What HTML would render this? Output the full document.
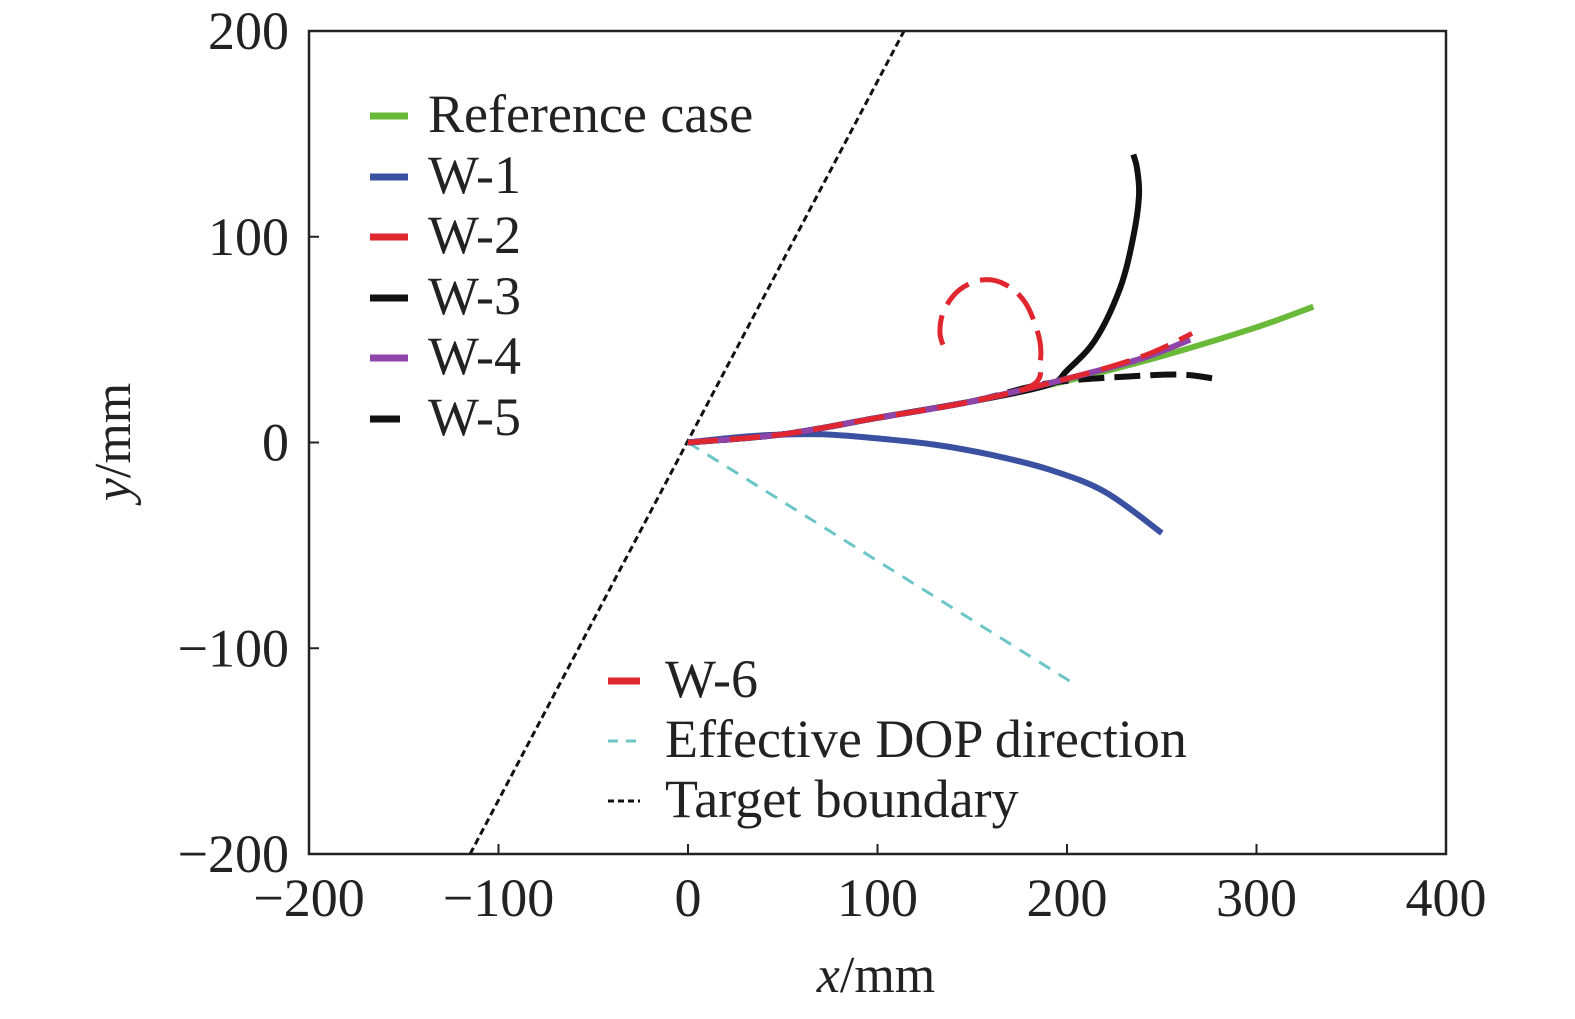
<!DOCTYPE html>
<html><head><meta charset="utf-8"><style>
body{margin:0;background:#fff}
svg text{font-family:"Liberation Serif",serif;fill:#222}
</style></head><body>
<svg id="chart" width="1575" height="1014" xmlns="http://www.w3.org/2000/svg">
<g id="marks"></g>
<g id="axes"></g>
</svg>
<script>
const xTicks=[-200,-100,0,100,200,300,400];
const yTicks=[-200,-100,0,100,200];
const refX=[0,50,100,150,200,250,300,330];
const refY=[0,4,12,20,30,42,56,66];
const w1X=[0,20,40,70,100,130,160,190,220,250];
const w1Y=[0,2,3.5,4,2,-1,-6,-13,-24,-44];
const w2X=[0,50,100,150,200,240,266];
const w2Y=[0,4,12,20,31,42,53];
const w3X=[0,50,100,150,190,200,215,228,235,238,237,235];
const w3Y=[0,4,12,20,28,35,50,75,100,120,133,140];
const w4X=[0,50,100,150,200,240,265];
const w4Y=[0,4,12,20,31,41,50];
const w5X=[0,50,100,150,180,200,230,260,278];
const w5Y=[0,4,12,20,27,30,32,33,31];
const w6X=[0,50,100,150,182,186,185,178,167,155,143,135,133,136];
const w6Y=[0,4,12,20,28,40,52,68,77,79,74,64,53,44];
const dopX=[0,205];
const dopY=[0,-118];
const tbX=[-115,114];
const tbY=[-200,200];

const L=309,R=1446,T=31,B=854;
const sx=v=>L+(v+200)/600*(R-L);
const sy=v=>B-(v+200)/400*(B-T);
const NS="http://www.w3.org/2000/svg";
const marks=document.getElementById('marks'),axes=document.getElementById('axes');
function el(tag,attrs,parent){const e=document.createElementNS(NS,tag);for(const k in attrs)e.setAttribute(k,attrs[k]);parent.appendChild(e);return e;}
function smooth(P){
  if(P.length<3)return P.map((p,i)=>(i?'L':'M')+p[0].toFixed(1)+','+p[1].toFixed(1)).join('');
  let d='M'+P[0][0].toFixed(1)+','+P[0][1].toFixed(1);
  for(let i=0;i<P.length-1;i++){
    const p0=P[Math.max(i-1,0)],p1=P[i],p2=P[i+1],p3=P[Math.min(i+2,P.length-1)];
    const c1=[p1[0]+(p2[0]-p0[0])/6,p1[1]+(p2[1]-p0[1])/6];
    const c2=[p2[0]-(p3[0]-p1[0])/6,p2[1]-(p3[1]-p1[1])/6];
    d+='C'+c1.map(v=>v.toFixed(1)).join(',')+' '+c2.map(v=>v.toFixed(1)).join(',')+' '+p2.map(v=>v.toFixed(1)).join(',');
  }
  return d;
}
function series(xs,ys,color,w,dash,name){
  const P=xs.map((x,i)=>[sx(x),sy(ys[i])]);
  const p=el('path',{d:smooth(P),fill:'none',stroke:color,'stroke-width':w,'stroke-dasharray':dash||'none','stroke-linecap':'butt','stroke-linejoin':'round'},marks);
  
  
}
series(tbX,tbY,'#111',3,'7 4','target-boundary-line');
series(dopX,dopY,'#6cc6c8',3,'13 10','effective-dop-line');
series(refX,refY,'#6aba3a',6,'','reference-case-line');
series(w1X,w1Y,'#3a50a0',6,'','w1-line');
series(w3X,w3Y,'#111',6,'','w3-line');
series(w5X,w5Y,'#111',6,'26 10','w5-line');
series(w4X,w4Y,'#8e44a8',6,'','w4-line');
series(w2X,w2Y,'#e0262e',5,'30 12','w2-line');
series(w6X,w6Y,'#e0262e',5,'30 12','w6-line');

const frame=el('rect',{x:L,y:T,width:R-L,height:B-T,fill:'none',stroke:'#222','stroke-width':2.5},axes);


const fmt=v=>v<0?'\u2212'+(-v):String(v);
xTicks.forEach(v=>{
  el('line',{x1:sx(v),x2:sx(v),y1:B,y2:B-10,stroke:'#222','stroke-width':2},axes);
  const t=el('text',{x:sx(v),y:916,'font-size':54,'text-anchor':'middle'},axes);t.textContent=fmt(v);
  
  
});
yTicks.forEach(v=>{
  el('line',{x1:L,x2:L+10,y1:sy(v),y2:sy(v),stroke:'#222','stroke-width':2},axes);
  const t=el('text',{x:289,y:sy(v)+18,'font-size':54,'text-anchor':'end'},axes);t.textContent=fmt(v);
  
  
});
</script>
<svg style="position:absolute;left:0;top:0" width="1575" height="1014" xmlns="http://www.w3.org/2000/svg">
<text x="876" y="992" font-size="52" text-anchor="middle"><tspan font-style="italic">x</tspan>/mm</text>
<text transform="translate(130,442) rotate(-90)" font-size="52" text-anchor="middle"><tspan font-style="italic">y</tspan>/mm</text>
<g font-size="54">
<g><line x1="370" x2="408" y1="116" y2="116" stroke="#6aba3a" stroke-width="7"/><text x="428" y="132">Reference case</text></g>
<g><line x1="370" x2="408" y1="177" y2="177" stroke="#3a50a0" stroke-width="7"/><text x="428" y="193">W-1</text></g>
<g><line x1="370" x2="408" y1="237" y2="237" stroke="#e0262e" stroke-width="7"/><text x="428" y="253">W-2</text></g>
<g><line x1="370" x2="408" y1="298" y2="298" stroke="#111" stroke-width="7"/><text x="428" y="314">W-3</text></g>
<g><line x1="370" x2="408" y1="358" y2="358" stroke="#8e44a8" stroke-width="7"/><text x="428" y="374">W-4</text></g>
<g><line x1="370" x2="400" y1="419" y2="419" stroke="#111" stroke-width="7"/><text x="428" y="435">W-5</text></g>
</g>
<g font-size="54">
<g><line x1="608" x2="640" y1="681" y2="681" stroke="#e0262e" stroke-width="7"/><text x="665" y="697">W-6</text></g>
<g><line x1="608" x2="640" y1="741" y2="741" stroke="#6cc6c8" stroke-width="3" stroke-dasharray="10 8"/><text x="665" y="757">Effective DOP direction</text></g>
<g><line x1="608" x2="640" y1="801" y2="801" stroke="#111" stroke-width="3" stroke-dasharray="6 4"/><text x="665" y="817">Target boundary</text></g>
</g>
</svg>
</body></html>
